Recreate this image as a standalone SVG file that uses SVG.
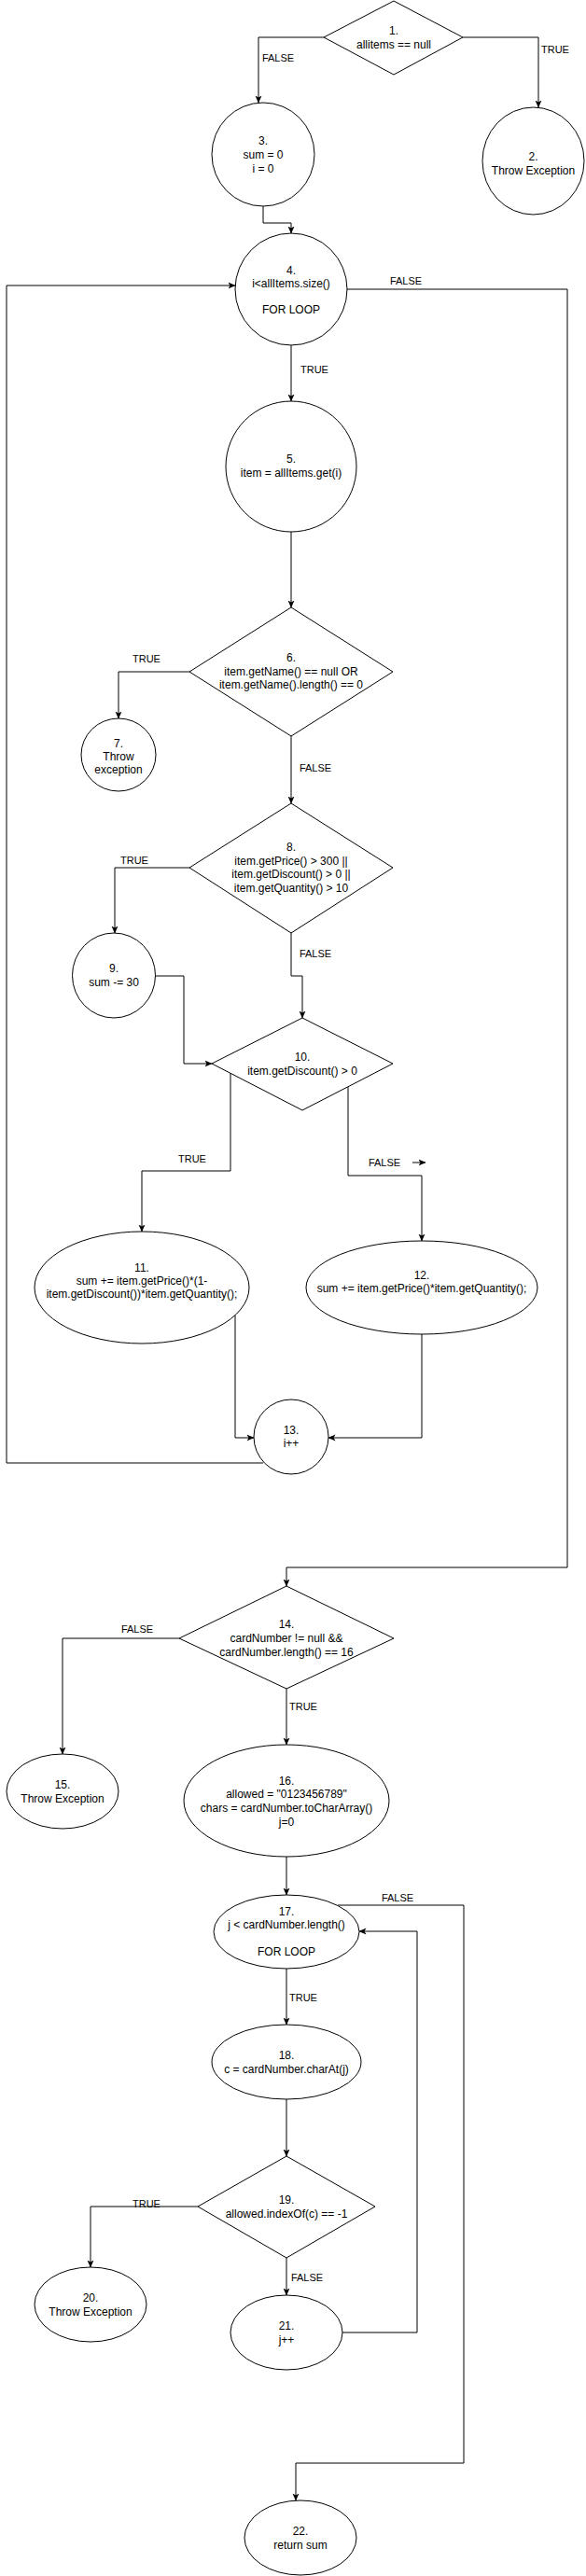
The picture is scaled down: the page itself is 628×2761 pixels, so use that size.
<svg xmlns="http://www.w3.org/2000/svg" width="628" height="2761" viewBox="0 0 628 2761">
<style>
.n{fill:#fff;stroke:#000;stroke-width:1}
.t{font-family:"Liberation Sans",Arial,sans-serif;font-size:12px;fill:#000;text-anchor:middle}
.l{font-family:"Liberation Sans",Arial,sans-serif;font-size:11px;fill:#000;text-anchor:middle}
.e{fill:none;stroke:#000;stroke-width:1;marker-end:url(#arr)}
</style>
<defs>
<marker id="arr" markerWidth="8" markerHeight="8" refX="7.5" refY="4" orient="auto" markerUnits="userSpaceOnUse">
<path d="M0,0.5 L8,4 L0,7.5 L2,4 Z" fill="#000"/>
</marker>
</defs>
<rect width="628" height="2761" fill="#fff"/>
<g id="connectors">
<path class="e" d="M347,40 H277 V110"/>
<path class="e" d="M496,40 H577 V115"/>
<path class="e" d="M282,221 V239 H312 V250"/>
<path class="e" d="M312,370 V430"/>
<path class="e" d="M372,310 H608 V1680 H307 V1700"/>
<path class="e" d="M312,570 V651"/>
<path class="e" d="M203,720 H127 V770"/>
<path class="e" d="M312,789 V861"/>
<path class="e" d="M203,930 H123 V1000"/>
<path class="e" d="M312,1000 V1046 H324 V1091"/>
<path class="e" d="M166,1046 H197 V1140 H227"/>
<path class="e" d="M247,1150 V1255 H152 V1320"/>
<path class="e" d="M373,1165 V1260 H452 V1330"/>
<path class="e" d="M442,1246 H456"/>
<path class="e" d="M252,1410 V1541 H272"/>
<path class="e" d="M452,1430 V1541 H352"/>
<path class="e" d="M282,1568 H7 V306 H252"/>
<path class="e" d="M192,1756 H67 V1880"/>
<path class="e" d="M307,1810 V1870"/>
<path class="e" d="M307,1990 V2031"/>
<path class="e" d="M307,2110 V2170"/>
<path class="e" d="M362,2042 H497 V2640 H317 V2680"/>
<path class="e" d="M307,2250 V2311"/>
<path class="e" d="M212,2365 H97 V2430"/>
<path class="e" d="M307,2420 V2460"/>
<path class="e" d="M367,2500 H447 V2070 H385"/>
<text class="l" x="298" y="66">FALSE</text>
<text class="l" x="595" y="57">TRUE</text>
<text class="l" x="435" y="305">FALSE</text>
<text class="l" x="337" y="400">TRUE</text>
<text class="l" x="157" y="710">TRUE</text>
<text class="l" x="338" y="827">FALSE</text>
<text class="l" x="144" y="926">TRUE</text>
<text class="l" x="338" y="1026">FALSE</text>
<text class="l" x="206" y="1246">TRUE</text>
<text class="l" x="412" y="1250">FALSE</text>
<text class="l" x="147" y="1750">FALSE</text>
<text class="l" x="325" y="1833">TRUE</text>
<text class="l" x="325" y="2145">TRUE</text>
<text class="l" x="426" y="2038">FALSE</text>
<text class="l" x="157" y="2366">TRUE</text>
<text class="l" x="329" y="2445">FALSE</text>
</g>
<g id="n1"><path class="n" d="M422,1 L496,40 L422,80 L347,40 Z"/><text class="t" x="422" y="37">1.</text><text class="t" x="422" y="52">allitems == null</text></g>
<g id="n2"><ellipse class="n" cx="571.5" cy="172.5" rx="54.5" ry="57.5"/><text class="t" x="571.5" y="172">2.</text><text class="t" x="571.5" y="187">Throw Exception</text></g>
<g id="n3"><ellipse class="n" cx="282" cy="165.5" rx="55" ry="55.5"/><text class="t" x="282" y="155">3.</text><text class="t" x="282" y="170">sum = 0</text><text class="t" x="282" y="185">i = 0</text></g>
<g id="n4"><ellipse class="n" cx="312" cy="310" rx="60" ry="60"/><text class="t" x="312" y="294">4.</text><text class="t" x="312" y="308">i&lt;allItems.size()</text><text class="t" x="312" y="336">FOR LOOP</text></g>
<g id="n5"><ellipse class="n" cx="312" cy="500" rx="70" ry="70"/><text class="t" x="312" y="496">5.</text><text class="t" x="312" y="511">item = allItems.get(i)</text></g>
<g id="n6"><path class="n" d="M312,651 L421,720 L312,789 L203,720 Z"/><text class="t" x="312" y="709">6.</text><text class="t" x="312" y="724">item.getName() == null OR</text><text class="t" x="312" y="738">item.getName().length() == 0</text></g>
<g id="n7"><ellipse class="n" cx="127" cy="809" rx="40" ry="39"/><text class="t" x="127" y="801">7.</text><text class="t" x="127" y="815">Throw</text><text class="t" x="127" y="829">exception</text></g>
<g id="n8"><path class="n" d="M312,861 L421,930 L312,1000 L203,930 Z"/><text class="t" x="312" y="912">8.</text><text class="t" x="312" y="927">item.getPrice() &gt; 300 ||</text><text class="t" x="312" y="941">item.getDiscount() &gt; 0 ||</text><text class="t" x="312" y="956">item.getQuantity() &gt; 10</text></g>
<g id="n9"><ellipse class="n" cx="122" cy="1045.5" rx="44.5" ry="45.5"/><text class="t" x="122" y="1042">9.</text><text class="t" x="122" y="1057">sum -= 30</text></g>
<g id="n10"><path class="n" d="M324,1091 L421,1140 L324,1190 L227,1140 Z"/><text class="t" x="324" y="1137">10.</text><text class="t" x="324" y="1152">item.getDiscount() &gt; 0</text></g>
<g id="n11"><ellipse class="n" cx="152" cy="1380" rx="115" ry="60"/><text class="t" x="152" y="1363">11.</text><text class="t" x="152" y="1377">sum += item.getPrice()*(1-</text><text class="t" x="152" y="1391">item.getDiscount())*item.getQuantity();</text></g>
<g id="n12"><ellipse class="n" cx="452" cy="1380" rx="124" ry="50"/><text class="t" x="452" y="1371">12.</text><text class="t" x="452" y="1385">sum += item.getPrice()*item.getQuantity();</text></g>
<g id="n13"><ellipse class="n" cx="312" cy="1540" rx="40" ry="40"/><text class="t" x="312" y="1537">13.</text><text class="t" x="312" y="1551">i++</text></g>
<g id="n14"><path class="n" d="M307,1700 L422,1756 L307,1810 L192,1756 Z"/><text class="t" x="307" y="1745">14.</text><text class="t" x="307" y="1760">cardNumber != null &amp;&amp;</text><text class="t" x="307" y="1775">cardNumber.length() == 16</text></g>
<g id="n15"><ellipse class="n" cx="67" cy="1920" rx="60" ry="40"/><text class="t" x="67" y="1917">15.</text><text class="t" x="67" y="1932">Throw Exception</text></g>
<g id="n16"><ellipse class="n" cx="307" cy="1930" rx="110" ry="60"/><text class="t" x="307" y="1913">16.</text><text class="t" x="307" y="1927">allowed = "0123456789"</text><text class="t" x="307" y="1942">chars = cardNumber.toCharArray()</text><text class="t" x="307" y="1957">j=0</text></g>
<g id="n17"><ellipse class="n" cx="307" cy="2070.5" rx="78" ry="39.5"/><text class="t" x="307" y="2053">17.</text><text class="t" x="307" y="2067">j &lt; cardNumber.length()</text><text class="t" x="307" y="2096">FOR LOOP</text></g>
<g id="n18"><ellipse class="n" cx="307" cy="2210" rx="80" ry="40"/><text class="t" x="307" y="2207">18.</text><text class="t" x="307" y="2222">c = cardNumber.charAt(j)</text></g>
<g id="n19"><path class="n" d="M307,2311 L402,2365 L307,2420 L212,2365 Z"/><text class="t" x="307" y="2362">19.</text><text class="t" x="307" y="2377">allowed.indexOf(c) == -1</text></g>
<g id="n20"><ellipse class="n" cx="97" cy="2470" rx="60" ry="40"/><text class="t" x="97" y="2467">20.</text><text class="t" x="97" y="2482">Throw Exception</text></g>
<g id="n21"><ellipse class="n" cx="307" cy="2500" rx="60" ry="40"/><text class="t" x="307" y="2497">21.</text><text class="t" x="307" y="2512">j++</text></g>
<g id="n22"><ellipse class="n" cx="322" cy="2720" rx="60" ry="40"/><text class="t" x="322" y="2717">22.</text><text class="t" x="322" y="2732">return sum</text></g>
</svg>
